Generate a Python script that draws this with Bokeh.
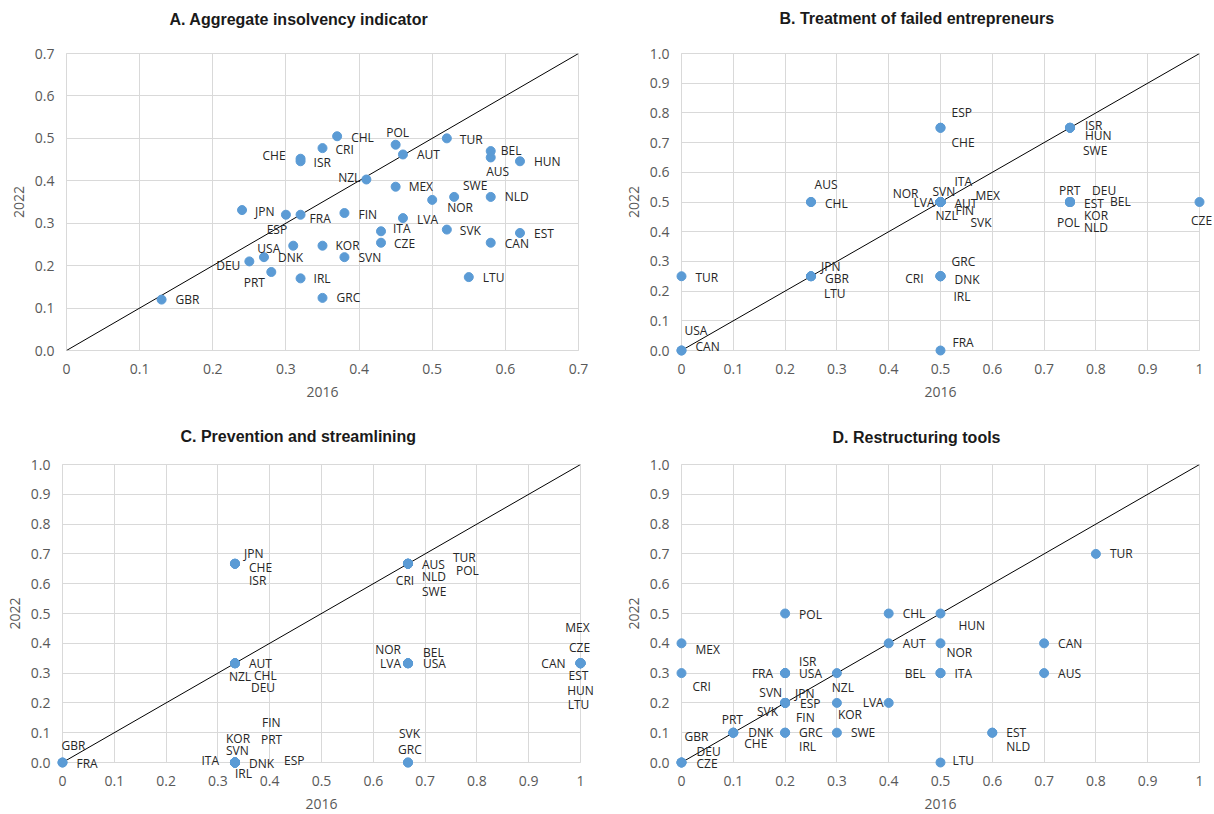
from bokeh.plotting import figure
from bokeh.models import ColumnDataSource, FixedTicker, Slope
from bokeh.layouts import column, row
from bokeh.embed import file_html
from bokeh.resources import INLINE
from bokeh.core.properties import field, value

# ---------------- data ----------------
countries = ["AUS", "AUT", "BEL", "CAN", "CHE", "CHL", "CRI", "CZE", "DEU", "DNK",
             "ESP", "EST", "FIN", "FRA", "GBR", "GRC", "HUN", "IRL", "ISR", "ITA",
             "JPN", "KOR", "LTU", "LVA", "MEX", "NLD", "NOR", "NZL", "POL", "PRT",
             "SVK", "SVN", "SWE", "TUR", "USA"]

# A. Aggregate insolvency indicator
A_2016 = [0.58, 0.46, 0.58, 0.58, 0.32, 0.37, 0.35, 0.43, 0.25, 0.27,
          0.30, 0.62, 0.38, 0.32, 0.13, 0.35, 0.62, 0.32, 0.32, 0.43,
          0.24, 0.35, 0.55, 0.46, 0.45, 0.58, 0.50, 0.41, 0.45, 0.28,
          0.52, 0.38, 0.53, 0.52, 0.31]
A_2022 = [0.455, 0.462, 0.470, 0.254, 0.452, 0.505, 0.477, 0.254, 0.210, 0.220,
          0.320, 0.277, 0.324, 0.320, 0.120, 0.124, 0.446, 0.170, 0.446, 0.281,
          0.331, 0.247, 0.173, 0.312, 0.386, 0.362, 0.355, 0.403, 0.485, 0.185,
          0.285, 0.220, 0.362, 0.500, 0.247]

# B. Treatment of failed entrepreneurs
B_2016 = [0.25, 0.5, 0.75, 0.0, 0.5, 0.25, 0.5, 1.0, 0.75, 0.5,
          0.5, 0.75, 0.5, 0.5, 0.25, 0.5, 0.75, 0.5, 0.75, 0.5,
          0.25, 0.75, 0.25, 0.5, 0.5, 0.75, 0.5, 0.5, 0.75, 0.75,
          0.5, 0.5, 0.75, 0.0, 0.0]
B_2022 = [0.5, 0.5, 0.5, 0.0, 0.75, 0.5, 0.25, 0.5, 0.5, 0.25,
          0.75, 0.5, 0.5, 0.0, 0.25, 0.25, 0.75, 0.25, 0.75, 0.5,
          0.25, 0.5, 0.25, 0.5, 0.5, 0.5, 0.5, 0.5, 0.5, 0.5,
          0.5, 0.5, 0.75, 0.25, 0.0]

# C. Prevention and streamlining
C_2016 = [0.667, 0.333, 0.667, 1.0, 0.333, 0.333, 0.667, 1.0, 0.333, 0.333,
          0.333, 1.0, 0.333, 0.0, 0.0, 0.667, 1.0, 0.333, 0.333, 0.333,
          0.333, 0.333, 1.0, 0.667, 1.0, 0.667, 0.667, 0.333, 0.667, 0.333,
          0.667, 0.333, 0.667, 0.667, 0.667]
C_2022 = [0.667, 0.333, 0.333, 0.333, 0.667, 0.333, 0.667, 0.333, 0.333, 0.0,
          0.0, 0.333, 0.0, 0.0, 0.0, 0.0, 0.333, 0.0, 0.667, 0.0,
          0.667, 0.0, 0.333, 0.333, 0.333, 0.667, 0.333, 0.333, 0.667, 0.0,
          0.0, 0.0, 0.667, 0.667, 0.333]

# D. Restructuring tools
D_2016 = [0.7, 0.4, 0.5, 0.7, 0.1, 0.4, 0.0, 0.0, 0.0, 0.1,
          0.2, 0.6, 0.2, 0.2, 0.0, 0.2, 0.5, 0.2, 0.2, 0.5,
          0.2, 0.3, 0.5, 0.4, 0.0, 0.6, 0.5, 0.3, 0.2, 0.1,
          0.2, 0.2, 0.3, 0.8, 0.2]
D_2022 = [0.3, 0.4, 0.3, 0.4, 0.1, 0.5, 0.3, 0.0, 0.0, 0.1,
          0.2, 0.1, 0.2, 0.3, 0.0, 0.1, 0.5, 0.1, 0.3, 0.3,
          0.2, 0.2, 0.0, 0.2, 0.4, 0.1, 0.4, 0.3, 0.5, 0.1,
          0.2, 0.2, 0.1, 0.7, 0.3]

titles = ["A. Aggregate insolvency indicator", "B. Treatment of failed entrepreneurs",
          "C. Prevention and streamlining", "D. Restructuring tools"]
x_axis_label = "2016"
y_axis_label = "2022"

A_ticks = [0.0, 0.1, 0.2, 0.3, 0.4, 0.5, 0.6, 0.7]
A_x_tick_labels = ["0", "0.1", "0.2", "0.3", "0.4", "0.5", "0.6", "0.7"]
A_y_tick_labels = ["0.0", "0.1", "0.2", "0.3", "0.4", "0.5", "0.6", "0.7"]
U_ticks = [0.0, 0.1, 0.2, 0.3, 0.4, 0.5, 0.6, 0.7, 0.8, 0.9, 1.0]
U_x_tick_labels = ["0", "0.1", "0.2", "0.3", "0.4", "0.5", "0.6", "0.7", "0.8", "0.9", "1"]
U_y_tick_labels = ["0.0", "0.1", "0.2", "0.3", "0.4", "0.5", "0.6", "0.7", "0.8", "0.9", "1.0"]

# ---------------- label placement (pixel offsets from marker, alignment) ----------------
A_lab = {"AUS": (7, 14, "center"), "AUT": (14, 0, "left"), "BEL": (10, -1, "left"),
         "CAN": (14, 1, "left"), "CHE": (-15, -3, "right"), "CHL": (14, 1, "left"),
         "CRI": (13, 1, "left"), "CZE": (13, 1, "left"), "DEU": (-9, 4, "right"),
         "DNK": (14, 0, "left"), "ESP": (-9, 15, "center"), "EST": (14, 1, "left"),
         "FIN": (14, 1, "left"), "FRA": (9, 4, "left"), "GBR": (14, 0, "left"),
         "GRC": (14, 0, "left"), "HUN": (14, 0, "left"), "IRL": (13, 0, "left"),
         "ISR": (13, 1, "left"), "ITA": (12, -3, "left"), "JPN": (13, 1, "left"),
         "KOR": (13, 0, "left"), "LTU": (14, 0, "left"), "LVA": (14, 1, "left"),
         "MEX": (13, 0, "left"), "NLD": (14, 0, "left"), "NOR": (15, 8, "left"),
         "NZL": (-6, -2, "right"), "POL": (2, -12, "center"), "PRT": (-17, 10, "center"),
         "SVK": (13, 1, "left"), "SVN": (14, 0, "left"), "SWE": (21, -11, "center"),
         "TUR": (13, 1, "left"), "USA": (-13, 3, "right")}
B_lab = {"AUS": (15, -18, "center"), "AUT": (14, 1, "left"), "BEL": (40, -1, "left"),
         "CAN": (14, -4, "left"), "CHE": (11, 15, "left"), "CHL": (14, 1, "left"),
         "CRI": (-17, 2, "right"), "CZE": (2, 18, "center"), "DEU": (22, -12, "left"),
         "DNK": (14, 3, "left"), "ESP": (11, -15, "left"), "EST": (14, 1, "left"),
         "FIN": (15, 8, "left"), "FRA": (12, -8, "left"), "GBR": (14, 2, "left"),
         "GRC": (11, -15, "left"), "HUN": (15, 8, "left"), "IRL": (13, 20, "left"),
         "ISR": (15, -2, "left"), "ITA": (14, -21, "left"), "JPN": (10, -10, "left"),
         "KOR": (14, 13, "left"), "LTU": (13, 17, "left"), "LVA": (-6, 0, "right"),
         "MEX": (35, -7, "left"), "NLD": (14, 25, "left"), "NOR": (-22, -9, "right"),
         "NZL": (-5, 13, "left"), "POL": (-13, 20, "left"), "PRT": (-11, -12, "left"),
         "SVK": (30, 20, "left"), "SVN": (-8, -11, "left"), "SWE": (13, 23, "left"),
         "TUR": (14, 1, "left"), "USA": (3, -20, "left")}
C_lab = {"AUS": (14, 1, "left"), "AUT": (14, 0, "left"), "BEL": (15, -11, "left"),
         "CAN": (-15, 0, "right"), "CHE": (14, 4, "left"), "CHL": (19, 12, "left"),
         "CRI": (-3, 17, "center"), "CZE": (-1, -16, "center"), "DEU": (16, 24, "left"),
         "DNK": (14, 1, "left"), "ESP": (49, -2, "left"), "EST": (-2, 12, "center"),
         "FIN": (27, -40, "left"), "FRA": (14, 1, "left"), "GBR": (-1, -17, "left"),
         "GRC": (-10, -13, "left"), "HUN": (0, 27, "center"), "IRL": (0, 11, "left"),
         "ISR": (14, 17, "left"), "ITA": (-16, -2, "right"), "JPN": (9, -10, "left"),
         "KOR": (-9, -24, "left"), "LTU": (-2, 41, "center"), "LVA": (-7, 0, "right"),
         "MEX": (-3, -36, "center"), "NLD": (14, 13, "left"), "NOR": (-7, -14, "right"),
         "NZL": (5, 13, "center"), "POL": (48, 7, "left"), "PRT": (26, -23, "left"),
         "SVK": (-9, -29, "left"), "SVN": (-9, -12, "left"), "SWE": (14, 28, "left"),
         "TUR": (45, -6, "left"), "USA": (15, 0, "left")}
D_lab = {"AUS": (14, 0, "left"), "AUT": (14, 0, "left"), "BEL": (-15, 0, "right"),
         "CAN": (14, 0, "left"), "CHE": (11, 11, "left"), "CHL": (14, 0, "left"),
         "CRI": (11, 13, "left"), "CZE": (15, 1, "left"), "DEU": (15, -11, "left"),
         "DNK": (15, 0, "left"), "ESP": (15, 1, "left"), "EST": (14, 0, "left"),
         "FIN": (11, 15, "left"), "FRA": (-12, 0, "right"), "GBR": (3, -26, "left"),
         "GRC": (14, 0, "left"), "HUN": (18, 12, "left"), "IRL": (14, 14, "left"),
         "ISR": (14, -12, "left"), "ITA": (14, 0, "left"), "JPN": (10, -9, "left"),
         "KOR": (1, 12, "left"), "LTU": (12, -2, "left"), "LVA": (-5, 0, "right"),
         "MEX": (14, 6, "left"), "NLD": (14, 14, "left"), "NOR": (6, 9, "left"),
         "NZL": (6, 14, "center"), "POL": (14, 1, "left"), "PRT": (-1, -13, "center"),
         "SVK": (-7, 9, "right"), "SVN": (-3, -10, "right"), "SWE": (14, 0, "left"),
         "TUR": (14, 0, "left"), "USA": (14, 0, "left")}

# ---------------- styling ----------------
MARKER = "#5B9BD5"
GRID = "#d9d9d9"
TICK_COLOR = "#595959"
LABEL_FONT = "Open Sans"


def panel(title, xs, ys, labs, ticks, xlabels, ylabels, width, height,
          borders, title_dx, title_gap):
    left, right, top, bottom = borders
    lo, hi = ticks[0], ticks[-1]
    p = figure(width=width, height=height, x_range=(lo, hi), y_range=(lo, hi),
               output_backend="svg", toolbar_location=None,
               min_border_left=left, min_border_right=right,
               min_border_top=top, min_border_bottom=bottom)
    p.outline_line_color = GRID
    p.background_fill_color = "white"
    p.border_fill_color = "white"

    for ax, labels in ((p.xaxis, xlabels), (p.yaxis, ylabels)):
        ax.ticker = FixedTicker(ticks=ticks)
        ax.major_label_overrides = {t: l for t, l in zip(ticks, labels)}
        ax.major_tick_line_color = None
        ax.minor_tick_line_color = None
        ax.major_tick_out = 0
        ax.major_tick_in = 0
        ax.axis_line_color = GRID
        ax.major_label_text_font = LABEL_FONT
        ax.major_label_text_font_size = "14px"
        ax.major_label_text_color = TICK_COLOR
        ax.axis_label_text_font = LABEL_FONT
        ax.axis_label_text_font_size = "14px"
        ax.axis_label_text_font_style = "normal"
        ax.axis_label_text_color = TICK_COLOR
    p.xaxis.axis_label = x_axis_label
    p.yaxis.axis_label = y_axis_label
    p.xaxis.major_label_standoff = 13
    p.yaxis.major_label_standoff = 12
    p.xaxis.axis_label_standoff = 10
    p.yaxis.axis_label_standoff = 8

    p.xgrid.ticker = FixedTicker(ticks=ticks)
    p.ygrid.ticker = FixedTicker(ticks=ticks)
    p.xgrid.grid_line_color = GRID
    p.ygrid.grid_line_color = GRID

    p.add_layout(Slope(gradient=1, y_intercept=0, line_color="black", line_width=1))

    src = ColumnDataSource(dict(
        name=countries, x=xs, y=ys,
        dx=[labs[c][0] for c in countries],
        dy=[labs[c][1] for c in countries],
        align=[labs[c][2] for c in countries]))
    r = p.scatter("x", "y", source=src, size=9, fill_color=MARKER, line_color=MARKER)
    r.level = "overlay"
    t = p.text("x", "y", text="name", source=src, x_offset="dx", y_offset="dy",
               text_align=field("align"), text_baseline="middle",
               text_font=value(LABEL_FONT), text_font_size="12px", text_color="#262626")
    t.level = "overlay"

    # panel title, anchored at the top-left corner of the plotting frame
    tt = p.text(x=[lo], y=[hi], text=[title], x_offset=title_dx, y_offset=-title_gap,
                text_align="left", text_baseline="middle",
                text_font=value("Liberation Sans"), text_font_size="16px",
                text_font_style="bold", text_color="#1a1a1a")
    tt.level = "overlay"
    return p


pA = panel(titles[0], A_2016, A_2022, A_lab, A_ticks, A_x_tick_labels, A_y_tick_labels,
           607, 404, (66, 29, 52, 54), 103, 34)
pB = panel(titles[1], B_2016, B_2022, B_lab, U_ticks, U_x_tick_labels, U_y_tick_labels,
           605, 404, (74, 13, 53, 52), 98, 35)
pC = panel(titles[2], C_2016, C_2022, C_lab, U_ticks, U_x_tick_labels, U_y_tick_labels,
           607, 408, (62, 27, 60, 49), 118, 28)
pD = panel(titles[3], D_2016, D_2022, D_lab, U_ticks, U_x_tick_labels, U_y_tick_labels,
           605, 408, (74, 13, 59, 50), 151, 27)

layout = column(row(pA, pB), row(pC, pD))
open("out.html", "w").write(file_html(layout, INLINE))
